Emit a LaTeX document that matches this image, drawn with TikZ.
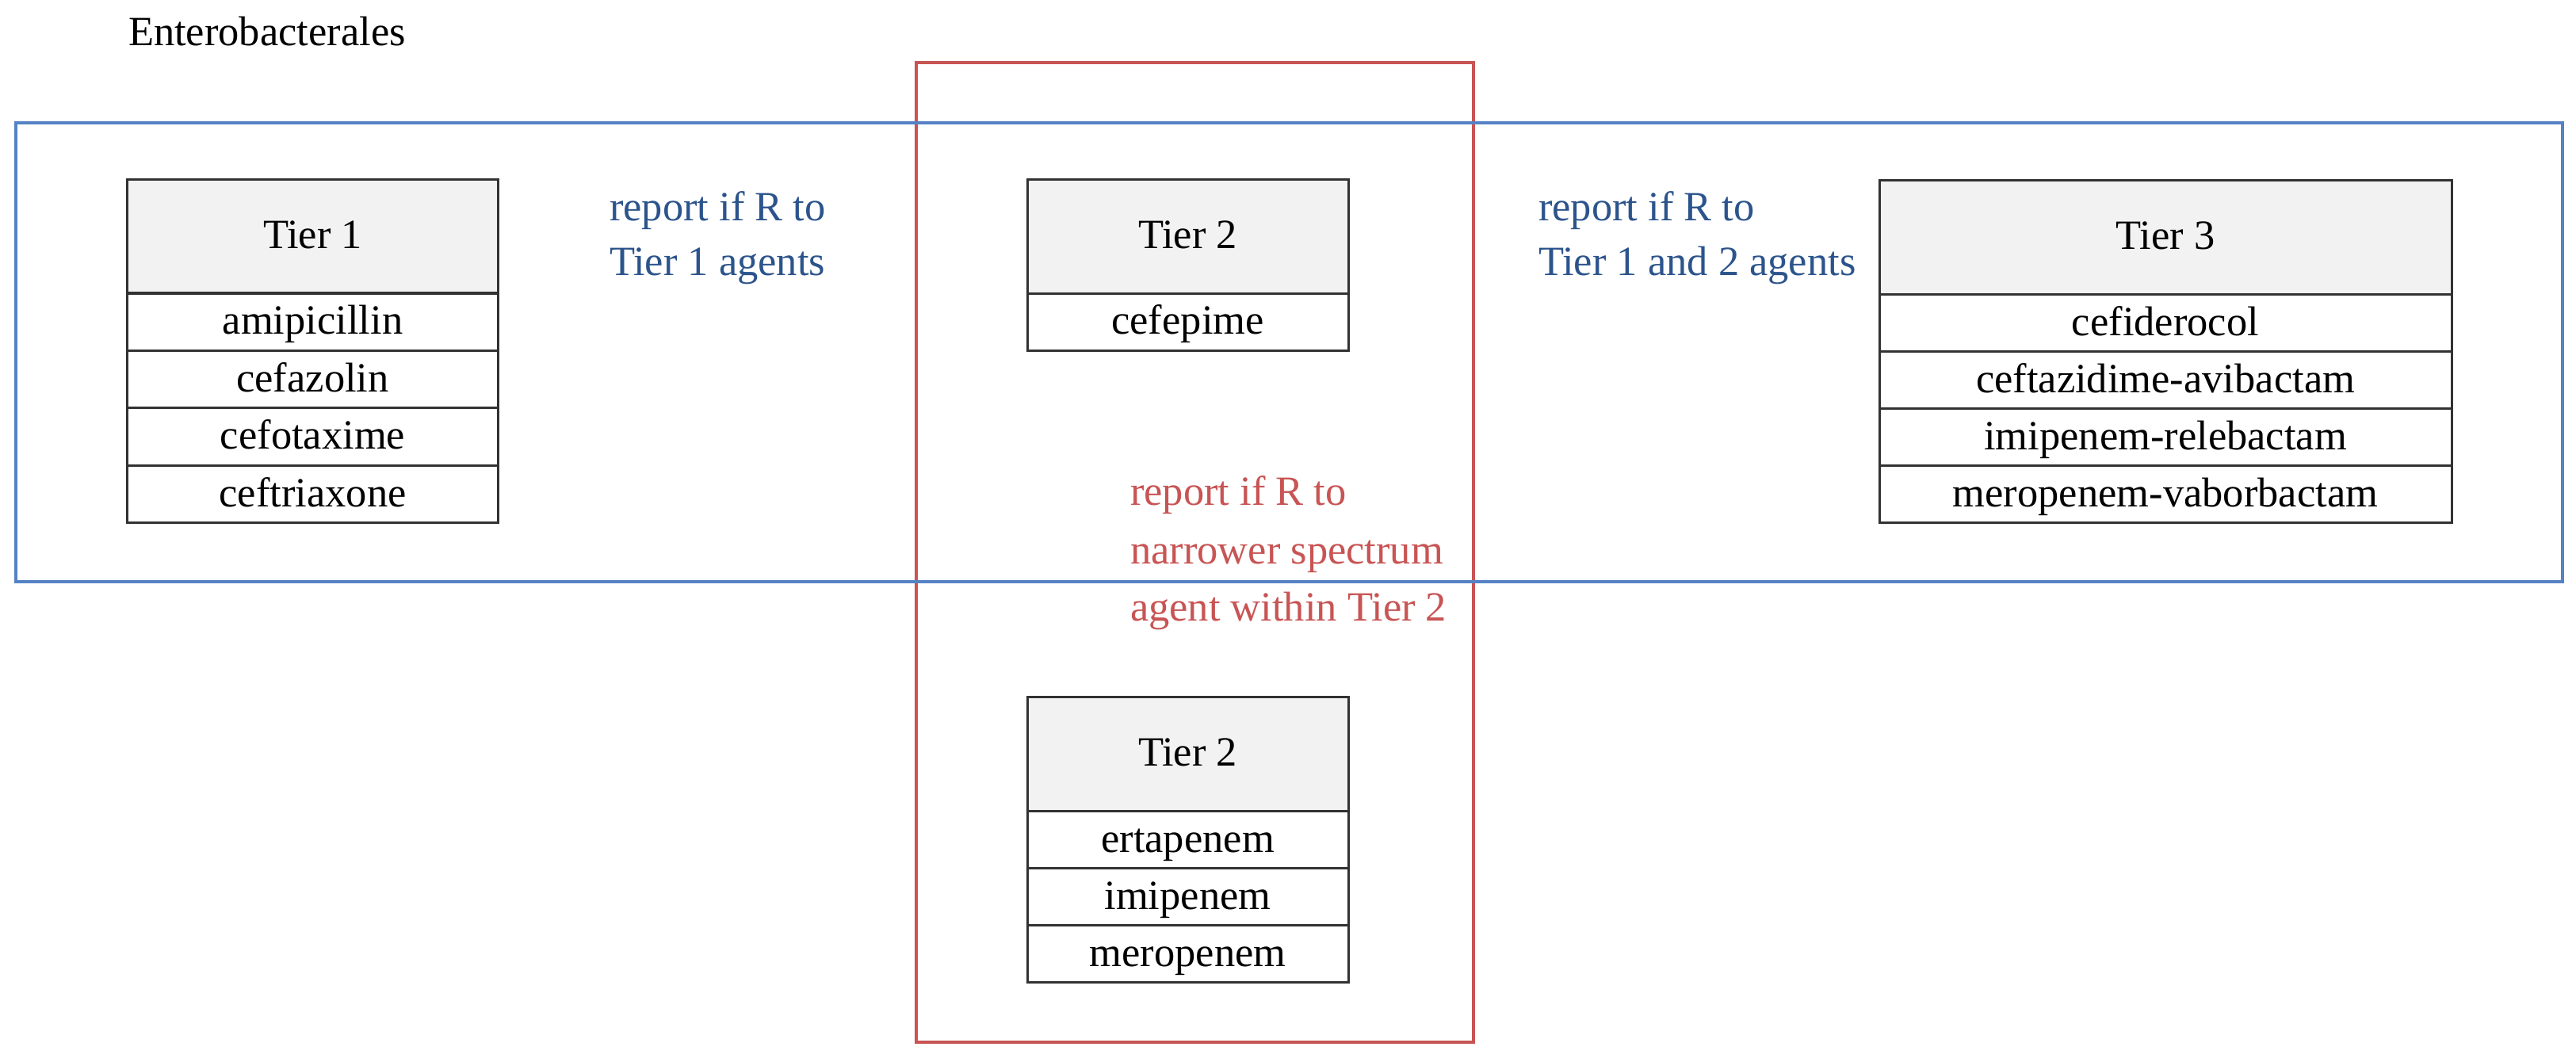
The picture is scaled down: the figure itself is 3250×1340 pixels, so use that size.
\documentclass[tikz,border=0pt]{standalone}
\usepackage{fontspec}
\setmainfont{Liberation Serif}
\usepackage{tikz}
\definecolor{bl}{RGB}{84,130,196}
\definecolor{rd}{RGB}{200,84,84}
\definecolor{bt}{RGB}{44,84,140}
\definecolor{hd}{RGB}{242,242,242}
\definecolor{tl}{RGB}{50,50,50}

\begin{document}
\begin{tikzpicture}[
    x=.2pt, y=-.2pt,
    every node/.style={inner sep=0pt, font=\fontsize{10.5}{12.6}\selectfont},
    cell/.style={draw=tl, line width=.6pt, minimum width=#1, minimum height=14.5pt,
                 text height=7.4pt, text depth=1.2pt},
    head/.style={cell=#1, fill=hd, minimum height=28.7pt},
    note/.style={anchor=base west}]

      \useasboundingbox (0,0) rectangle (3250,1340);

      \node[note] (title) at (161,58) {Enterobacterales};

      % frames
      \draw[rd, line width=.9pt] (1156,79) rectangle (1859,1315);
      \draw[bl, line width=.8pt] (20,155) rectangle (3233,734);

      % Tier 1
      \node[head=93.4pt] (tier1) at (394.5,298.5) {Tier 1};
      \foreach \d [count=\i] in {amipicillin, cefazolin, cefotaxime, ceftriaxone}
        \node[cell=93.4pt] (tier1-\i) at (394.5,333.75+72.5*\i) {\d};

      % Tier 2
      \node[head=81pt] (tier2) at (1498.5,298.5) {Tier 2};
      \node[cell=81pt] (tier2-1) at (1498.5,406.5) {cefepime};

      % Tier 2, carbapenems
      \node[head=81pt] (tier2b) at (1498.5,951.5) {Tier 2};
      \foreach \d [count=\i] in {ertapenem, imipenem, meropenem}
        \node[cell=81pt, minimum height=14.4pt] (tier2b-\i) at (1498.5,988+72*\i) {\d};

      % Tier 3
      \node[head=144.4pt] (tier3) at (2732,299.5) {Tier 3};
      \foreach \d [count=\i] in {cefiderocol, ceftazidime-avibactam,
                                 imipenem-relebactam, meropenem-vaborbactam}
        \node[cell=144.4pt, minimum height=14.4pt] (tier3-\i) at (2732,336+72*\i) {\d};

      % notes
      \node[note, bt] (rep1a) at (768,279) {report if R to};
      \node[note, bt] (rep1b) at (768,348) {Tier 1 agents};

      \node[note, bt] (rep3a) at (1940,279) {report if R to};
      \node[note, bt] (rep3b) at (1940,348) {Tier 1 and 2 agents};

      \node[note, rd] (rep2a) at (1425,638) {report if R to};
      \node[note, rd] (rep2b) at (1425,712) {narrower spectrum};
      \node[note, rd] (rep2c) at (1425,784) {agent within Tier 2};

    \end{tikzpicture}
\end{document}
